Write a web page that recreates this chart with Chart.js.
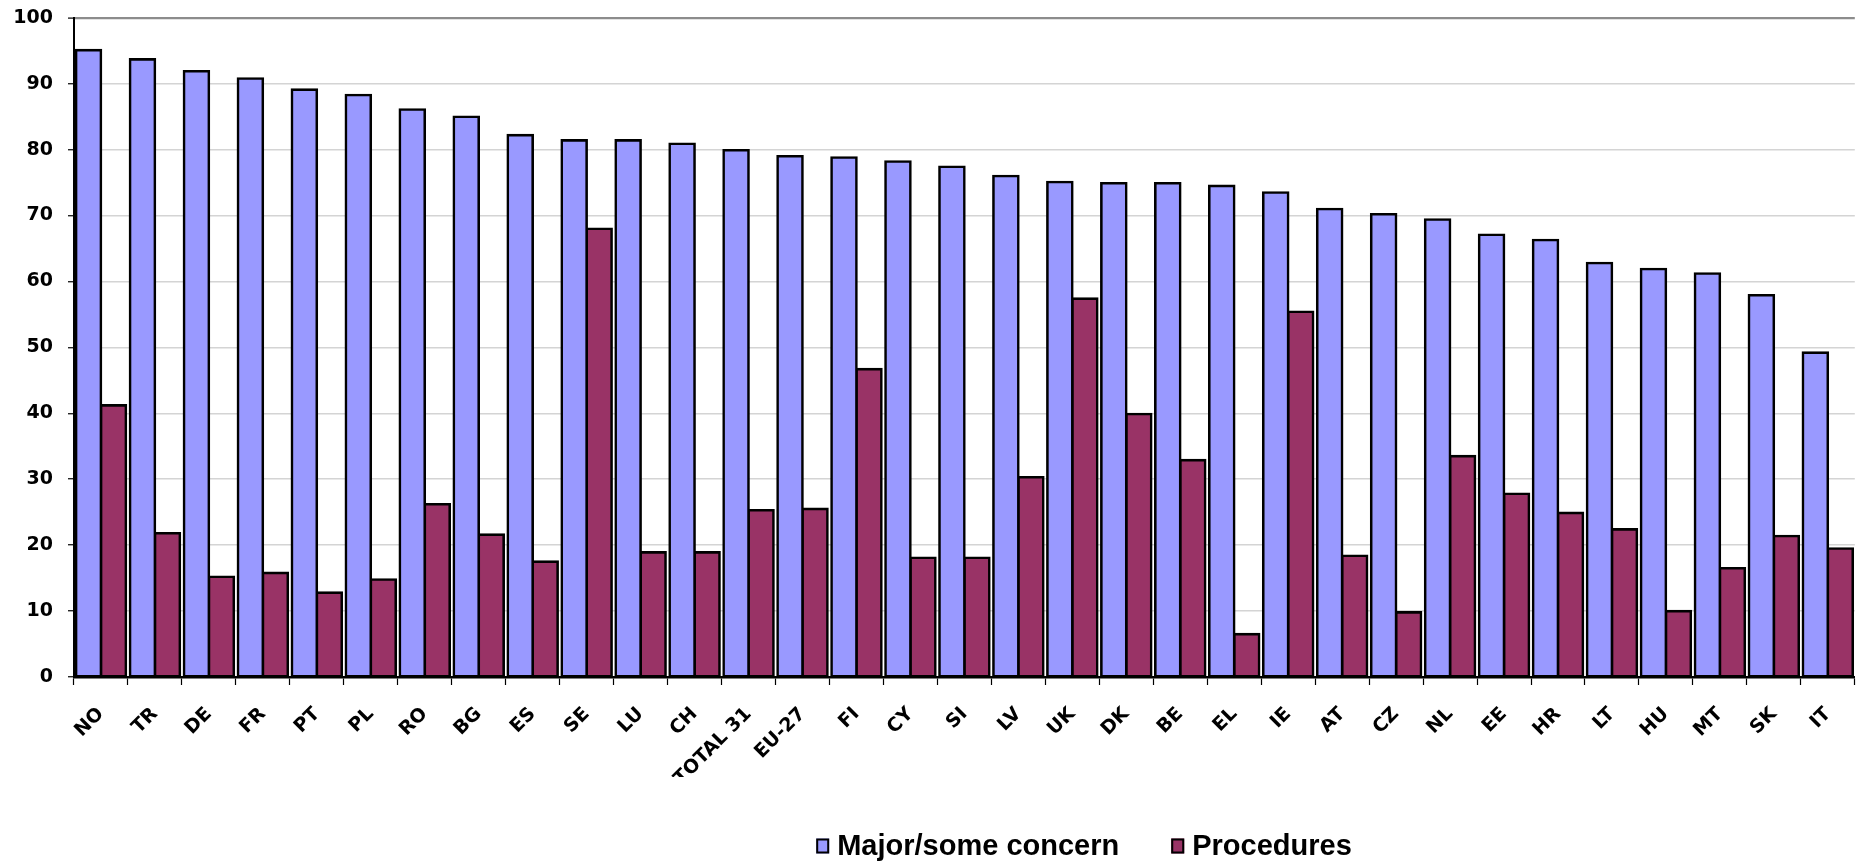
<!DOCTYPE html>
<html>
<head>
<meta charset="utf-8">
<script src="https://cdn.jsdelivr.net/npm/chart.js@4.4.1/dist/chart.umd.min.js"></script>
<style>
  html, body { margin: 0; padding: 0; background: #ffffff; overflow: hidden; }
  #wrap { position: relative; width: 1862px; height: 862px; }
  canvas { display: block; }
</style>
</head>
<body>
<div id="wrap"><canvas id="chart" width="1862" height="862"></canvas></div>
<script>
// Countries, ordered by share of "major/some concern"
const countries = ['NO', 'TR', 'DE', 'FR', 'PT', 'PL', 'RO', 'BG', 'ES', 'SE', 'LU', 'CH',
  'TOTAL 31', 'EU-27', 'FI', 'CY', 'SI', 'LV', 'UK', 'DK', 'BE', 'EL', 'IE', 'AT', 'CZ',
  'NL', 'EE', 'HR', 'LT', 'HU', 'MT', 'SK', 'IT'];

// Share reporting major or some concern (%)
const concern = [95.1, 93.7, 91.9, 90.8, 89.1, 88.3, 86.1, 85.0, 82.2, 81.4, 81.4, 80.9,
  79.9, 79.0, 78.8, 78.2, 77.4, 76.0, 75.1, 74.9, 74.9, 74.5, 73.5, 71.0, 70.2,
  69.4, 67.1, 66.3, 62.8, 61.9, 61.2, 57.9, 49.2];

// Share reporting procedures in place (%)
const procedures = [41.2, 21.8, 15.2, 15.8, 12.8, 14.8, 26.2, 21.6, 17.5, 68.0, 18.9, 18.9,
  25.3, 25.5, 46.7, 18.1, 18.1, 30.3, 57.4, 39.9, 32.9, 6.5, 55.4, 18.4, 9.8,
  33.5, 27.8, 24.9, 22.4, 10.0, 16.5, 21.4, 19.5];

const seriesNames = ['Major/some concern', 'Procedures'];
const yTicks = [0, 10, 20, 30, 40, 50, 60, 70, 80, 90, 100];

// Legend drawn under the axis labels, boxes with a black frame
const bottomLegend = {
  id: 'bottomLegend',
  afterDraw(chart) {
    const ctx = chart.ctx;
    const cy = 846;
    ctx.save();
    ctx.font = 'bold 29px "Liberation Sans", Arial, sans-serif';
    const boxW = 13, boxH = 15, gapBox = 8, gapItem = 52;
    const items = chart.data.datasets.map(ds => ({
      text: ds.label, color: ds.backgroundColor, w: ctx.measureText(ds.label).width
    }));
    let total = 0;
    items.forEach((it, i) => { total += boxW + gapBox + it.w + (i ? gapItem : 0); });
    let x = 1084 - total / 2;
    items.forEach((it, i) => {
      if (i) x += gapItem;
      ctx.fillStyle = it.color;
      ctx.fillRect(x, cy - boxH / 2, boxW, boxH);
      ctx.strokeStyle = '#000000';
      ctx.lineWidth = 2;
      ctx.strokeRect(x + 1, cy - boxH / 2 + 1, boxW - 2, boxH - 2);
      x += boxW + gapBox;
      ctx.fillStyle = '#000000';
      ctx.textBaseline = 'middle';
      ctx.textAlign = 'left';
      ctx.fillText(it.text, x, cy + 1);
      x += it.w;
    });
    ctx.restore();
  }
};

const barStyle = {
  borderColor: '#000000',
  borderWidth: 2.6,
  inflateAmount: 1.3,
  borderSkipped: false,
  categoryPercentage: 0.925,
  barPercentage: 1.0
};

const tickFont = { family: '"DejaVu Sans", Verdana, sans-serif', weight: 'bold', size: 19 };

const ctx = document.getElementById('chart');
new Chart(ctx, {
  type: 'bar',
  data: {
    labels: countries,
    datasets: [
      Object.assign({ label: seriesNames[0], data: concern, backgroundColor: '#9999FF' }, barStyle),
      Object.assign({ label: seriesNames[1], data: procedures, backgroundColor: '#993366' }, barStyle)
    ]
  },
  options: {
    responsive: false,
    maintainAspectRatio: false,
    animation: false,
    devicePixelRatio: 1,
    layout: { padding: { top: 17.8, right: 3.6, bottom: 85, left: 0 } },
    plugins: {
      legend: { display: false },
      tooltip: { enabled: false }
    },
    scales: {
      x: {
        offset: true,
        grid: {
          display: true,
          offset: true,
          drawOnChartArea: false,
          drawTicks: true,
          tickLength: 8,
          tickColor: '#000000',
          tickWidth: 1.2
        },
        border: { display: true, color: '#000000', width: 2.5 },
        ticks: {
          autoSkip: false,
          minRotation: 45,
          maxRotation: 45,
          padding: 18,
          color: '#000000',
          font: tickFont
        },
        afterFit(scale) { scale.height = 100; }
      },
      y: {
        min: 0,
        max: 100,
        afterBuildTicks(scale) { scale.ticks = yTicks.map(v => ({ value: v })); },
        grid: {
          color: c => (c.tick && c.tick.value === 100) ? '#8c8c8c' : '#d4d4d4',
          lineWidth: c => (c.tick && c.tick.value === 100) ? 2.2 : 1.5,
          drawTicks: true,
          tickLength: 6,
          tickColor: '#000000',
          tickWidth: 1.2
        },
        border: { display: true, color: '#000000', width: 2 },
        ticks: {
          padding: 15,
          color: '#000000',
          font: tickFont
        },
        afterFit(scale) {
          scale.width = 74;
          // only half a label of room is needed above the top tick
          scale.paddingTop = 12;
          scale.paddingBottom = 12;
        }
      }
    }
  },
  plugins: [bottomLegend]
});
</script>
</body>
</html>
